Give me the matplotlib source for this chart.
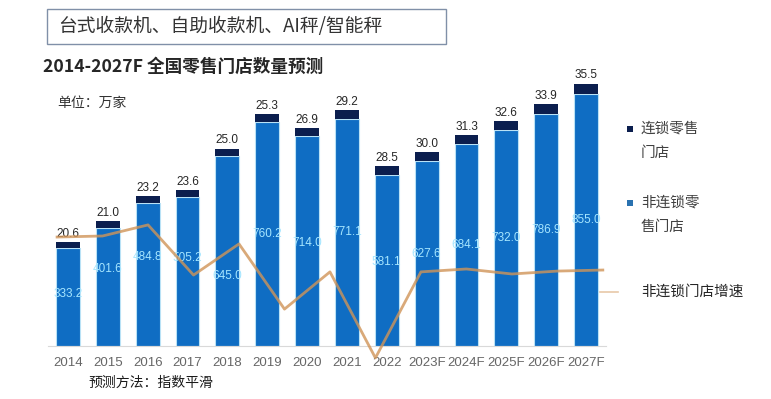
import matplotlib
matplotlib.use('Agg')
import matplotlib.pyplot as plt
from matplotlib.patches import Rectangle
from matplotlib.lines import Line2D

# ---- data ----
years = ['2014', '2015', '2016', '2017', '2018', '2019', '2020', '2021',
         '2022', '2023F', '2024F', '2025F', '2026F', '2027F']
non_chain = [333.2, 401.6, 484.8, 505.2, 645.0, 760.2, 714.0, 771.1,
             581.1, 627.6, 684.1, 732.0, 786.9, 855.0]
chain = [20.6, 21.0, 23.2, 23.6, 25.0, 25.3, 26.9, 29.2,
         28.5, 30.0, 31.3, 32.6, 33.9, 35.5]
growth_years = years[1:]
growth = [21.2, 21.6, 25.8, 6.8, 18.6, -6.1, 8.0, -24.6, 8.0, 9.1, 7.2, 8.3, 8.7]

# style: vertical nudge (pixels, up positive) of inner value labels, as in the source
inner_label_nudge = [3, 18, 18, 14, -25, 0, -2, 0, -2, 0, 0, 0, 0, 0]

CJK = ['Noto Sans CJK SC', 'DejaVu Sans']
NUM = ['Liberation Sans', 'DejaVu Sans']
plt.rcParams['font.family'] = CJK

W, H = 771, 399
fig = plt.figure(figsize=(W / 100, H / 100), dpi=100)

def fx(px):
    return px / W

def fy(py):
    return 1 - py / H

# main axes
left, right, top, base = 48, 606, 66, 346
rect = [fx(left), fy(base), fx(right - left), (base - top) / H]
ax = fig.add_axes(rect)
x = list(range(len(years)))
c_non = '#0F6DC3'
c_chain = '#0B1E4E'
b1 = ax.bar(x, non_chain, width=0.6, color=c_non, edgecolor='#B9E2F6', linewidth=0.8, zorder=2)
b2 = ax.bar(x, chain, width=0.6, bottom=non_chain, color=c_chain, linewidth=0, zorder=3)
for i, v in enumerate(non_chain):
    ax.annotate(f'{v:.1f}', (i, v / 2), xytext=(0, inner_label_nudge[i] * 0.72),
                textcoords='offset points', ha='center', va='center',
                color='#A6E6FF', fontsize=8.5, family=NUM, zorder=4)
ax.bar_label(b2, labels=[f'{v:.1f}' for v in chain], padding=1.5,
             color='#262626', fontsize=8.5, family=NUM)
ax.set_xlim(-0.5, len(years) - 0.5)
ax.set_ylim(0, 950)
ax.set_yticks([])
for s in ['top', 'right', 'left']:
    ax.spines[s].set_visible(False)
ax.spines['bottom'].set_color('#D9D9D9')
ax.set_xticks(x)
ax.set_xticklabels(years, family=NUM, fontsize=9.5, color='#666666')
ax.tick_params(axis='x', length=0, pad=8)

# growth line on its own overlay axes
ax2 = fig.add_axes(rect, frameon=False)
ax2.plot(range(len(growth)), growth, color='#D09458', alpha=0.8, linewidth=2,
         clip_on=False, zorder=5)
ax2.set_xlim(-0.2, len(growth) - 1 + 0.07)
ax2.set_ylim(-20.08, 86.0)
ax2.set_xticks([])
ax2.set_yticks([])

# header box
fig.add_artist(Rectangle((fx(47), fy(44)), fx(446 - 47), (44 - 9) / H,
                         transform=fig.transFigure, fill=False,
                         edgecolor='#8090A8', linewidth=1.0))
fig.text(fx(58), fy(26.5), '台式收款机、自助收款机、AI秤/智能秤', fontsize=13.5,
         color='#333333', va='center', ha='left', family=CJK)

# title
fig.text(fx(43), fy(67), '2014-2027F 全国零售门店数量预测', fontsize=12.7,
         fontweight='bold', color='#262626', va='center', ha='left', family=CJK)
fig.text(fx(57), fy(103), '单位：万家', fontsize=10, color='#333333',
         va='center', ha='left', family=CJK)
fig.text(fx(88), fy(383), '预测方法：指数平滑', fontsize=10, color='#1A1A1A',
         va='center', ha='left', family=CJK)

# legend
fig.add_artist(Rectangle((fx(627), fy(132)), 6 / W, 6 / H, transform=fig.transFigure,
                         color=c_chain, linewidth=0))
fig.text(fx(641), fy(129), '连锁零售', fontsize=10.5, color='#404040', va='center', family=CJK)
fig.text(fx(641), fy(153), '门店', fontsize=10.5, color='#404040', va='center', family=CJK)
fig.add_artist(Rectangle((fx(627), fy(206)), 6 / W, 6 / H, transform=fig.transFigure,
                         color='#2A72B0', linewidth=0))
fig.text(fx(641), fy(203), '非连锁零', fontsize=10.5, color='#404040', va='center', family=CJK)
fig.text(fx(641), fy(227), '售门店', fontsize=10.5, color='#404040', va='center', family=CJK)
fig.add_artist(Line2D([fx(600), fx(618)], [fy(292), fy(292)], transform=fig.transFigure,
                      color='#E8C8A8', linewidth=1.2))
fig.text(fx(641), fy(292), '非连锁门店增速', fontsize=10.5, color='#262626', va='center', family=CJK)

fig.savefig('out.png', dpi=100)
